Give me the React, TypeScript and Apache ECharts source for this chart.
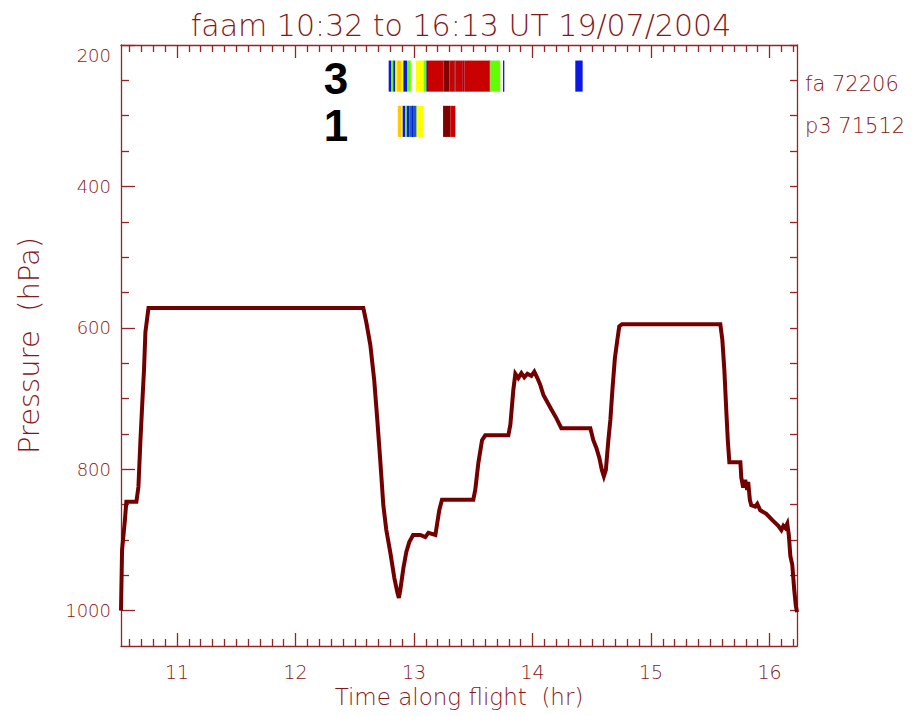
import React, { useEffect, useRef } from "react";
import * as echarts from "echarts";

// Flight profile: time along flight (decimal hours UT) and static pressure (hPa)
const FLIGHT_TIME = [
  10.527, 10.536, 10.56, 10.572, 10.657, 10.674, 10.691, 10.708, 10.721, 10.733, 10.759,
  12.572, 12.597, 12.631, 12.664, 12.69, 12.716, 12.741, 12.766, 12.8, 12.834, 12.859, 12.872,
  12.884, 12.91, 12.935, 12.96, 12.992, 13.053, 13.095, 13.121, 13.18, 13.197, 13.213, 13.236,
  13.5, 13.517, 13.543, 13.574, 13.601, 13.796, 13.813, 13.838, 13.855, 13.88, 13.906, 13.931,
  13.957, 13.99, 14.015, 14.041, 14.066, 14.092, 14.151, 14.202, 14.243, 14.488, 14.513, 14.539,
  14.564, 14.585, 14.602, 14.619, 14.64, 14.657, 14.674, 14.695, 14.716, 14.732, 14.755, 15.585,
  15.602, 15.619, 15.635, 15.648, 15.661, 15.754, 15.762, 15.778, 15.795, 15.812, 15.82, 15.834,
  15.846, 15.88, 15.897, 15.922, 15.973, 16.024, 16.074, 16.1, 16.117, 16.133, 16.15, 16.163,
  16.176, 16.192, 16.209, 16.222, 16.232,
];
const FLIGHT_PRESSURE = [
  1000, 914, 872, 846, 846, 825, 759, 702, 660, 606, 572,
  572, 592, 624, 674, 730, 790, 851, 886, 918, 954, 974, 982,
  971, 940, 917, 903, 893, 893, 896, 890, 893, 875, 858, 843,
  843, 829, 791, 759, 752, 752, 737, 688, 665, 671, 664, 670,
  665, 668, 662, 671, 681, 695, 713, 728, 742, 742, 759, 770,
  784, 801, 810, 801, 759, 730, 688, 643, 617, 598, 595, 595,
  617, 660, 716, 759, 790, 790, 812, 826, 815, 829, 818, 843,
  851, 853, 849, 858, 863, 872, 880, 886, 880, 883, 877, 893,
  923, 935, 971, 993, 1002,
];

// Probe sample strips: [start hr, end hr, colour class]
const FA_SEGMENTS: [number, number, number][] = [
  [12.786, 12.808, 0], [12.808, 12.825, 3], [12.825, 12.842, 0], [12.842, 12.857, 4],
  [12.857, 12.893, 5], [12.893, 12.91, 4], [12.91, 12.941, 0], [12.941, 12.973, 3],
  [13.017, 13.081, 4], [13.081, 13.104, 3], [13.104, 13.118, 2], [13.118, 13.25, 6],
  [13.25, 13.298, 7], [13.298, 13.34, 6], [13.34, 13.351, 7], [13.351, 13.412, 6],
  [13.412, 13.424, 2], [13.424, 13.635, 6], [13.635, 13.644, 2], [13.644, 13.728, 3],
  [13.751, 13.762, 0], [14.361, 14.423, 0],
];
const P3_SEGMENTS: [number, number, number][] = [
  [12.863, 12.893, 5], [12.893, 12.904, 4], [12.904, 12.924, 0], [12.924, 12.939, 3],
  [12.939, 12.96, 0], [12.96, 12.983, 1], [12.983, 12.998, 0], [12.998, 13.022, 1],
  [13.022, 13.081, 4], [13.245, 13.306, 7], [13.306, 13.349, 6],
];

const X_TICK_LABELS = [11, 12, 13, 14, 15, 16];
const Y_TICK_LABELS = [200, 400, 600, 800, 1000];

const TITLE = "faam 10:32 to 16:13 UT 19/07/2004";
const FA_LABEL = "fa 72206";
const P3_LABEL = "p3 71512";

// Axis extents
const T_MIN = 10.527;
const T_MAX = 16.232;
const P_TOP = 200;
const P_BOTTOM = 1050;

// Strip rows (pressure extents)
const FA_ROW = [222, 266];
const P3_ROW = [286, 330];

const PALETTE = ["#0a18e6", "#1a5fb4", "#3a1c9c", "#62ff00", "#ffff00", "#ffc800", "#c80000", "#800000"];
const AXIS = "#962424";
const TEXT = "#861818";
const LINE = "#730000";
const FONT = "DejaVu Sans";

const minorX: number[] = [];
for (let i = 106; i <= 162; i++) if (i % 10 !== 0) minorX.push(i / 10);
const minorY: number[] = [];
for (let p = 250; p <= 1000; p += 50) if (p % 200 !== 0) minorY.push(p);
const allY: number[] = [];
for (let p = 200; p <= 1000; p += 50) allY.push(p);

export default function App() {
  const ref = useRef<HTMLDivElement>(null);
  useEffect(() => {
    if (!ref.current) return;
    const chart = echarts.init(ref.current, null, { renderer: "svg" });
    const lineStyle = { color: AXIS, width: 1.3 };
    const baseX = { type: "value", min: T_MIN, max: T_MAX, splitLine: { show: false }, gridIndex: 0 };
    const baseY = { type: "value", min: P_TOP, max: P_BOTTOM, inverse: true, splitLine: { show: false }, gridIndex: 0 };
    const stripItems = (segs: [number, number, number][], row: number[]) =>
      segs.map((s) => [s[0], s[1], row[0], row[1], s[2]]);

    chart.setOption({
      animation: false,
      backgroundColor: "#ffffff",
      title: {
        text: TITLE,
        left: 456,
        top: 5,
        textAlign: "center",
        textStyle: { fontFamily: FONT, fontWeight: 200, fontSize: 30, color: TEXT },
      },
      grid: { left: 121, right: 121, top: 45, bottom: 70, containLabel: false },
      xAxis: [
        {
          ...baseX,
          position: "bottom",
          axisLine: { show: true, lineStyle },
          axisTick: { show: true, inside: true, length: 13, customValues: X_TICK_LABELS, lineStyle },
          axisLabel: {
            show: true,
            customValues: X_TICK_LABELS,
            margin: 16,
            fontFamily: FONT,
            fontWeight: 200,
            fontSize: 19,
            color: TEXT,
            formatter: (v: number) => String(v),
          },
          name: "Time along flight  (hr)",
          nameLocation: "middle",
          nameGap: 38,
          nameTextStyle: { fontFamily: FONT, fontWeight: 200, fontSize: 23, color: TEXT },
        },
        {
          ...baseX,
          position: "bottom",
          axisLine: { show: false },
          axisTick: { show: true, inside: true, length: 7, customValues: minorX, lineStyle },
          axisLabel: { show: false },
        },
        {
          ...baseX,
          position: "top",
          axisLine: { show: true, lineStyle },
          axisTick: { show: true, inside: true, length: 13, customValues: X_TICK_LABELS, lineStyle },
          axisLabel: { show: false },
        },
        {
          ...baseX,
          position: "top",
          axisLine: { show: false },
          axisTick: { show: true, inside: true, length: 7, customValues: minorX, lineStyle },
          axisLabel: { show: false },
        },
      ],
      yAxis: [
        {
          ...baseY,
          position: "left",
          axisLine: { show: true, lineStyle },
          axisTick: { show: true, inside: true, length: 14, customValues: Y_TICK_LABELS, lineStyle },
          axisLabel: {
            show: true,
            customValues: Y_TICK_LABELS,
            margin: 10,
            fontFamily: FONT,
            fontWeight: 200,
            fontSize: 18,
            color: TEXT,
            formatter: (v: number) => (v === 200 ? "{low|200}" : String(v)),
            rich: { low: { padding: [20, 0, 0, 0], fontFamily: FONT, fontWeight: 200, fontSize: 18, color: TEXT } },
          },
          name: "Pressure  (hPa)",
          nameLocation: "middle",
          nameGap: 78,
          nameTextStyle: { fontFamily: FONT, fontWeight: 200, fontSize: 29, color: TEXT },
        },
        {
          ...baseY,
          position: "left",
          axisLine: { show: false },
          axisTick: { show: true, inside: true, length: 8, customValues: minorY, lineStyle },
          axisLabel: { show: false },
        },
        {
          ...baseY,
          position: "right",
          axisLine: { show: true, lineStyle },
          axisTick: { show: true, inside: true, length: 7, customValues: allY, lineStyle },
          axisLabel: { show: false },
        },
      ],
      graphic: [
        { type: "text", x: 336, y: 78, style: { text: "3", font: "bold 44px 'Liberation Sans', Arial, sans-serif", fill: "#000", align: "center", verticalAlign: "middle" } },
        { type: "text", x: 336, y: 125, style: { text: "1", font: "bold 44px 'Liberation Sans', Arial, sans-serif", fill: "#000", align: "center", verticalAlign: "middle" } },
        { type: "text", x: 805, y: 84, style: { text: FA_LABEL, font: `200 21px '${FONT}'`, fill: TEXT, align: "left", verticalAlign: "middle" } },
        { type: "text", x: 805, y: 126, style: { text: P3_LABEL, font: `200 21px '${FONT}'`, fill: TEXT, align: "left", verticalAlign: "middle" } },
      ],
      series: [
        {
          type: "custom",
          xAxisIndex: 0,
          yAxisIndex: 0,
          clip: true,
          encode: { x: [0, 1], y: [2, 3] },
          data: [...stripItems(FA_SEGMENTS, FA_ROW), ...stripItems(P3_SEGMENTS, P3_ROW)],
          renderItem: (_params: any, api: any) => {
            const a = api.coord([api.value(0), api.value(2)]);
            const b = api.coord([api.value(1), api.value(3)]);
            return {
              type: "rect",
              shape: { x: a[0], y: a[1], width: b[0] - a[0], height: b[1] - a[1] },
              style: { fill: PALETTE[api.value(4)] },
            };
          },
        },
        {
          type: "line",
          xAxisIndex: 0,
          yAxisIndex: 0,
          showSymbol: false,
          clip: true,
          data: FLIGHT_TIME.map((t, i) => [t, FLIGHT_PRESSURE[i]]),
          lineStyle: { color: LINE, width: 4, join: "miter" },
          itemStyle: { color: LINE },
        },
      ],
    });
    return () => chart.dispose();
  }, []);
  return <div ref={ref} style={{ position: "absolute", left: 0, top: 0, width: 918, height: 716 }} />;
}
